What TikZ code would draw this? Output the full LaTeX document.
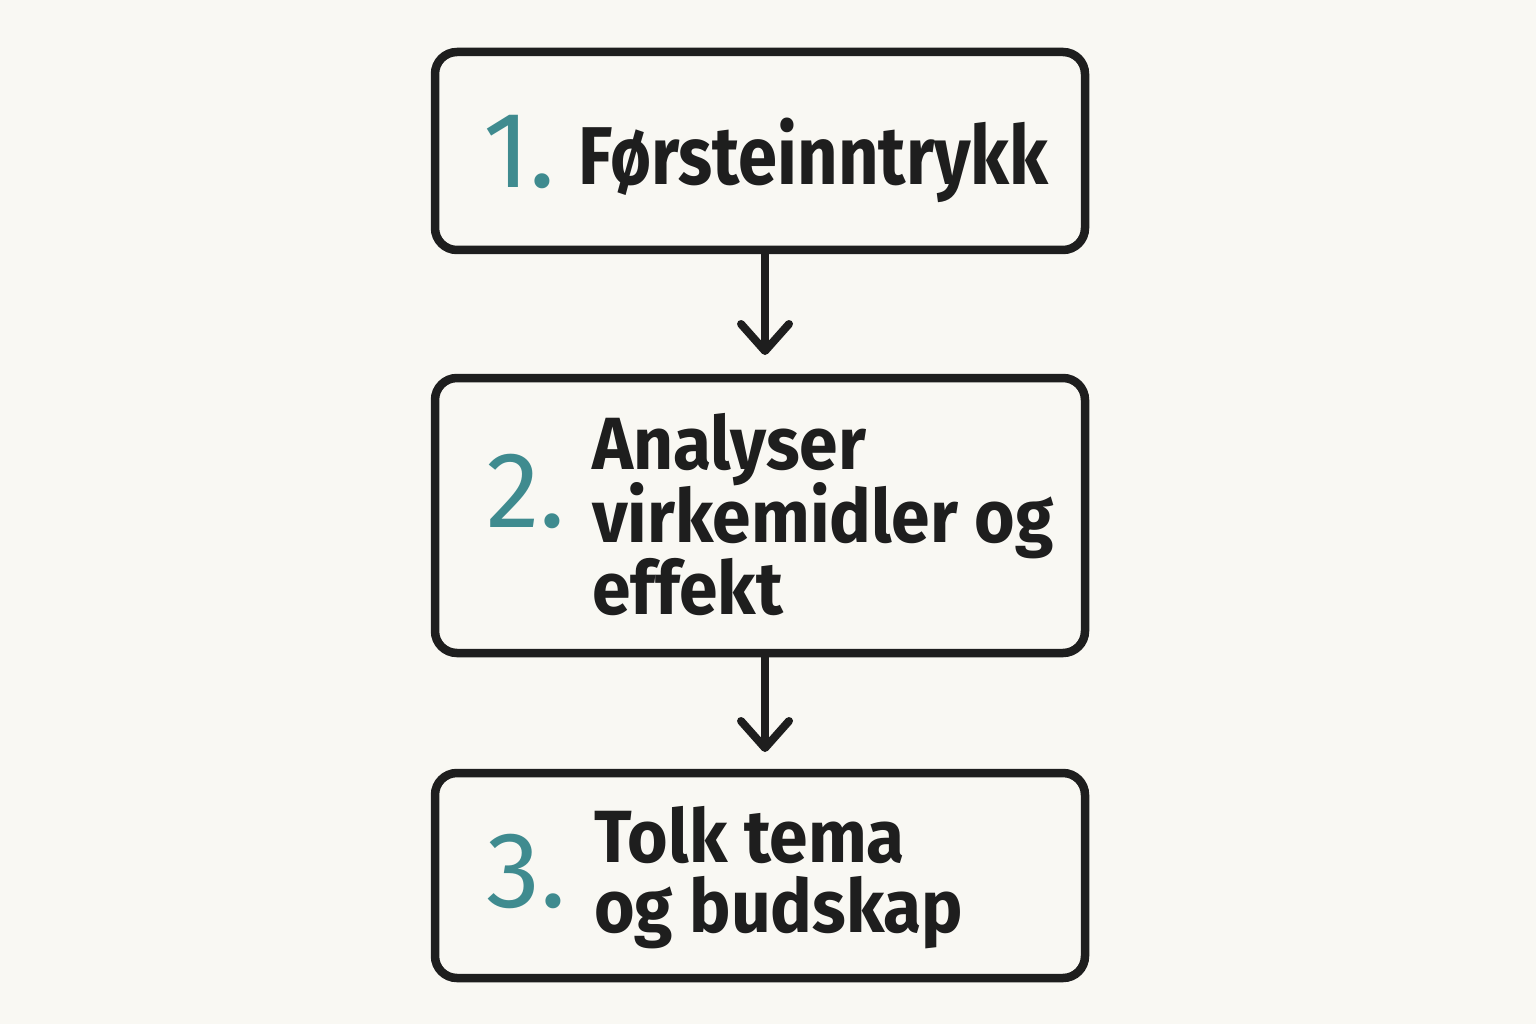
\documentclass[tikz,border=0pt]{standalone}
\usepackage{fontspec}
\setmainfont{Fira Sans}
\newfontfamily\txtfont[FakeStretch=0.94]{Fira Sans Bold}
\newfontfamily\bigfont[FakeStretch=0.86]{Fira Sans Bold}
\usetikzlibrary{arrows.meta}
\definecolor{bg}{HTML}{F9F8F3}
\definecolor{ink}{HTML}{1E1E1E}
\definecolor{teal}{HTML}{3F8B8F}
\tikzset{
  stepbox/.style={draw=ink, line width=8.5pt, rounded corners=22pt, fill=bg, inner sep=0pt},
  num/.style={text=teal, font=\fontsize{108}{108}\selectfont, anchor=base west, inner sep=0pt},
  bigtxt/.style={text=ink, font=\bigfont\fontsize{82}{82}\selectfont, anchor=base west, inner sep=0pt},
  txt/.style={text=ink, font=\txtfont\fontsize{74}{74}\selectfont, anchor=base west, inner sep=0pt},
  conn/.style={draw=ink, line width=8pt, line cap=round, -{Straight Barb[length=27pt,width=48pt,line width=8pt,round]}}
}
\begin{document}
\begin{tikzpicture}[x=1pt,y=-1pt]
\useasboundingbox[fill=bg] (0,0) rectangle (1536,1024);
\node[stepbox, minimum width=650pt, minimum height=198pt] (b1) at (760,151) {};
\node[stepbox, minimum width=650pt, minimum height=275pt] (b2) at (760,515.5) {};
\node[stepbox, minimum width=650pt, minimum height=205pt] (b3) at (760,875.5) {};
\node[num] (n1) at (483,188) {1.};
\node[bigtxt] (t1) at (578,185) {Førsteinntrykk};
\node[num] (n2) at (486,527) {2.};
\node[txt] (t2a) at (592,469) {Analyser};
\node[txt] (t2b) at (592,542) {virkemidler og};
\node[txt] (t2c) at (592,614) {effekt};
\node[num] (n3) at (486,907) {3.};
\node[txt] (t3a) at (594,862) {Tolk tema};
\node[txt] (t3b) at (594,932) {og budskap};
\coordinate (a1) at (765,250);
\coordinate (a2) at (765,355);
\coordinate (a3) at (765,653);
\coordinate (a4) at (765,752);
\draw[conn] (b1.south -| a1) -- (a2);
\draw[conn] (b2.south -| a3) -- (a4);
\end{tikzpicture}
\end{document}
